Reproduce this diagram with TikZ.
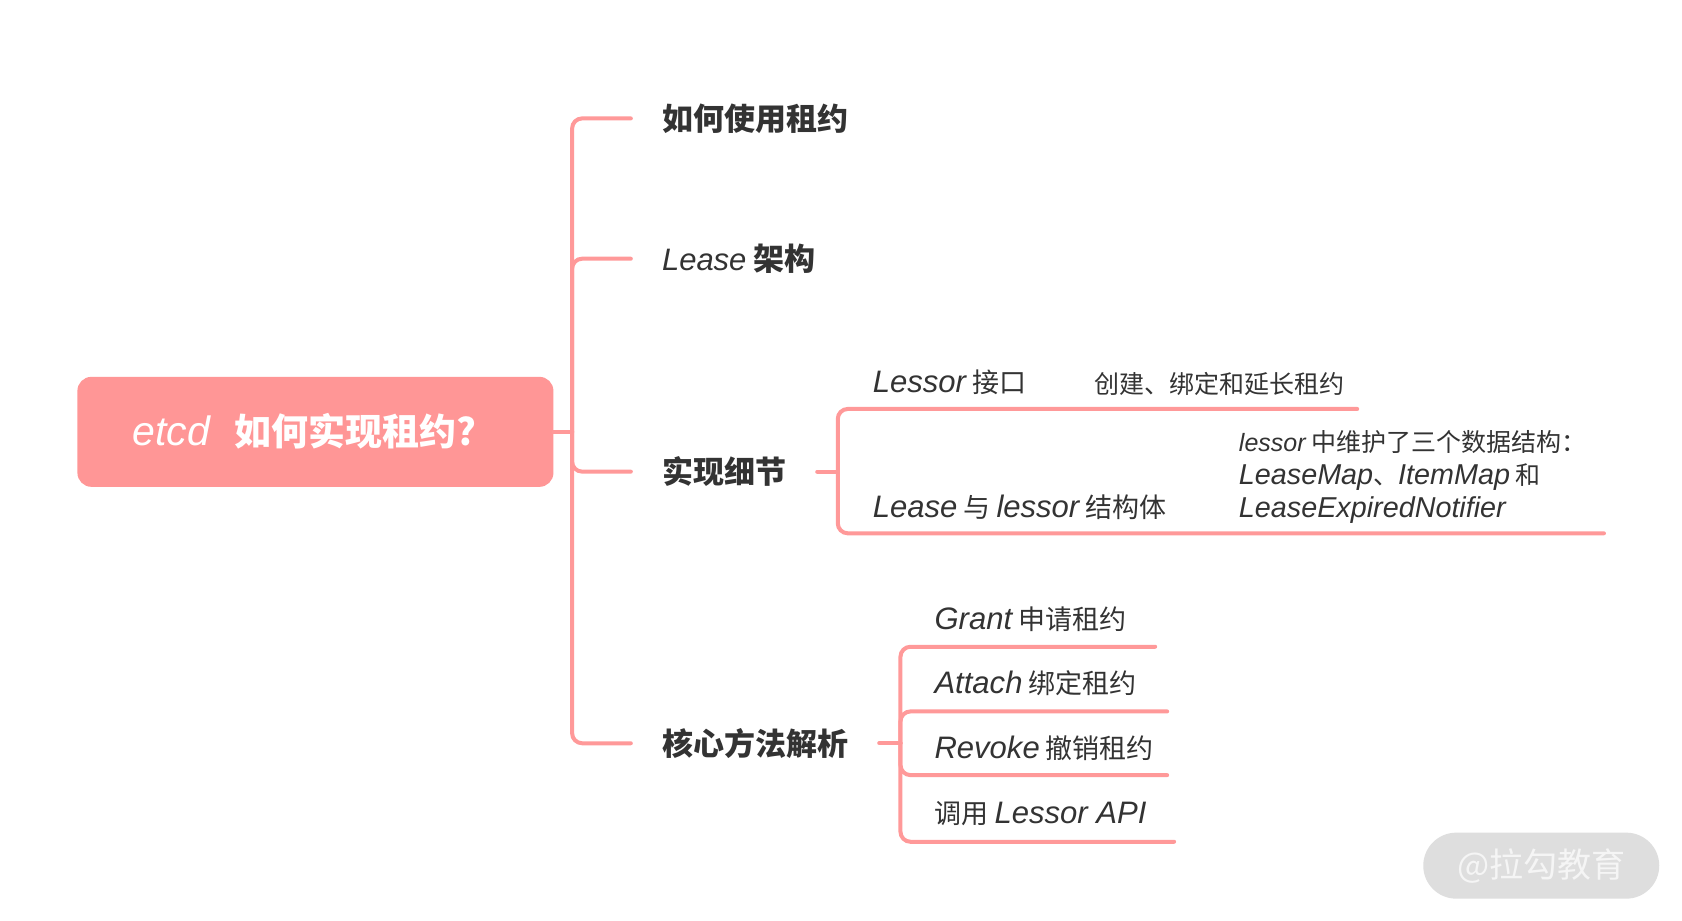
\documentclass[tikz,border=0pt]{standalone}
\usepackage{fontspec}
\setmainfont{Liberation Sans}
\newfontfamily\cjk{Noto Sans CJK SC}
\newfontfamily\latf{Liberation Sans}
\newfontfamily\latw{Liberation Sans}[Scale=1.15]
\newcommand\latit[1]{{\latf\itshape #1}}
\newcommand\latwide[1]{{\latw\itshape #1}}
\definecolor{lnk}{RGB}{255,153,153}
\definecolor{rootfill}{RGB}{255,150,150}
\definecolor{txt}{RGB}{51,51,51}
\definecolor{wmfill}{RGB}{222,222,222}
\definecolor{wmtext}{RGB}{245,245,245}
\tikzset{
  conn/.style={draw=lnk, line width=4pt, rounded corners=10pt, line cap=round},
  rootbox/.style={fill=rootfill, rounded corners=14pt, minimum width=476pt, minimum height=110pt, inner sep=0pt},
  mainlbl/.style={anchor=west, inner xsep=31pt, inner ysep=0pt, text=txt, font=\fontsize{31}{36}\selectfont\cjk\bfseries},
  leaf/.style={anchor=west, inner sep=0pt, text=txt, font=\fontsize{27}{32}\selectfont\cjk},
  smallleaf/.style={anchor=west, inner sep=0pt, text=txt, align=left, font=\fontsize{25}{33}\selectfont\cjk},
}
\begin{document}
\begin{tikzpicture}[x=0.995pt,y=-0.995pt]
\useasboundingbox (0pt,0pt) rectangle (1682pt,-921pt);
\fill[white] (0pt,0pt) rectangle (1682pt,-921pt);

% root
\node[rootbox] (root) at (317,434) {};
\node[text=white, inner sep=0pt] (roottext) at (306,433)
  {\fontsize{37}{40}\selectfont{\latf\itshape\fontsize{41}{44}\selectfont etcd}\hspace{24pt}{\cjk\bfseries 如何实现租约?}};

% main branches
\node[mainlbl] (b1) at (634,119) {如何使用租约};
\node[mainlbl] (b2) at (634,260) {{\mdseries\latit{Lease}} 架构};
\node[mainlbl] (b3) at (634,474) {实现细节};
\node[mainlbl] (b4) at (634,747) {核心方法解析};

\coordinate (t) at (575,434);
\draw[conn] (root.east) -- (t);
\draw[conn] (t) |- (b1.west);
\draw[conn] (t) |- (b2.west);
\draw[conn] (t) |- (b3.west);
\draw[conn] (t) |- (b4.west);

% 实现细节 children
\node[leaf] (s1) at (877,384) {\latwide{Lessor} 接口};
\node[smallleaf] (c1) at (1100,386) {创建、绑定和延长租约};
\node[leaf] (s2) at (877,510) {\latwide{Lease} 与 \latwide{lessor} 结构体};
\node[smallleaf] (c2) at (1245,479) {\latit{lessor} 中维护了三个数据结构：\\ \latwide{LeaseMap}、\latwide{ItemMap} 和\\ \latwide{LeaseExpiredNotifier}};

\coordinate (j3) at (842,474);
\coordinate (u1) at (1364,411);
\coordinate (u2) at (1612,536);
\draw[conn] (b3.east) -- (j3);
\draw[conn] (j3) |- (u1);
\draw[conn] (j3) |- (u2);

% 核心方法解析 children
\node[leaf] (g1) at (939,622) {\latwide{Grant} 申请租约};
\node[leaf] (g2) at (939,687) {\latwide{Attach} 绑定租约};
\node[leaf] (g3) at (939,752) {\latwide{Revoke} 撤销租约};
\node[leaf] (g4) at (939,818) {调用 \latwide{Lessor API}};

\coordinate (j4) at (905,747);
\coordinate (v1) at (1161,650);
\coordinate (v2) at (1173,715);
\coordinate (v3) at (1173,779);
\coordinate (v4) at (1180,846);
\draw[conn] (b4.east) -- (j4);
\draw[conn] (j4) |- (v1);
\draw[conn] (j4) |- (v2);
\draw[conn] (j4) |- (v3);
\draw[conn] (j4) |- (v4);

% watermark
\node[fill=wmfill, rounded corners=33pt, minimum width=236pt, minimum height=66pt, inner sep=0pt,
      text=wmtext, font=\fontsize{34}{36}\selectfont\cjk] (wm) at (1549,870) {@拉勾教育};
\end{tikzpicture}
\end{document}
